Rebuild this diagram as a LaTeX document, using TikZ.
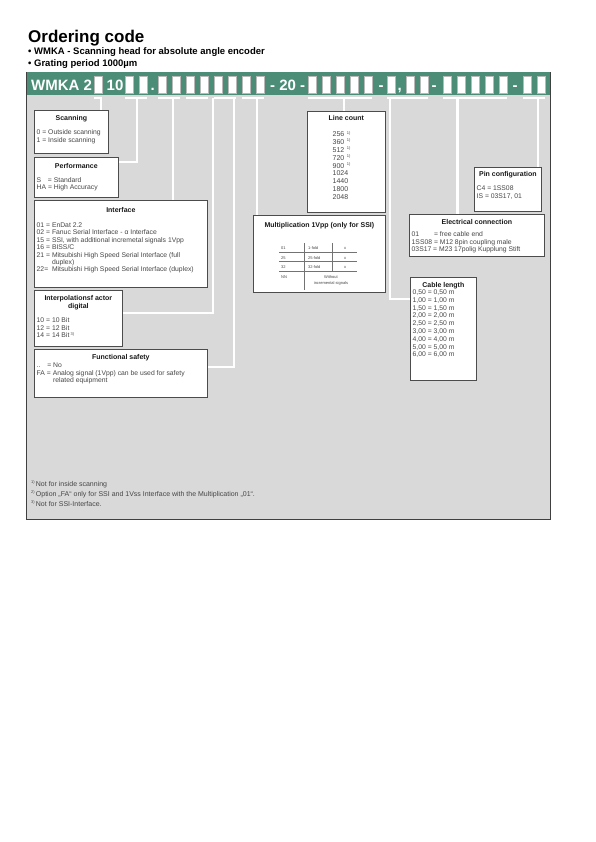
\documentclass[tikz,border=0pt]{standalone}
\usepackage{fontspec}
\setmainfont{Liberation Sans}
\usepackage{xcolor}
\usepackage{tikz}
\usetikzlibrary{positioning,calc}

\definecolor{barGreen}{RGB}{75,141,119}
\definecolor{panelGray}{RGB}{217,217,217}
\definecolor{txtGray}{RGB}{70,70,70}
\newcommand{\fnm}[1]{\raisebox{2.4pt}{\fontsize{4}{4}\selectfont #1}}

\begin{document}
\begin{tikzpicture}[x=1pt, y=-1pt,
    headline/.style={font=\fontsize{17}{17}\selectfont\bfseries, inner sep=0pt, anchor=base west},
    bulletline/.style={font=\fontsize{9.5}{11}\selectfont\bfseries, inner sep=0pt, anchor=base west},
    codebox/.style={rectangle, draw=gray!55, fill=white, line width=0.8pt, minimum width=8pt,
                    minimum height=17pt, inner sep=0pt, anchor=north west},
    barlabel/.style={text=white, font=\fontsize{15}{15}\selectfont\bfseries, inner sep=0pt, anchor=base west},
    infobox/.style={rectangle, draw=black!70, fill=white, line width=0.7pt, inner sep=0pt, anchor=north west},
    boxtitle/.style={font=\fontsize{7}{8}\selectfont\bfseries, text=black!90, inner sep=0pt, anchor=base, align=center},
    boxtext/.style={font=\fontsize{6.8}{7.4}\selectfont, text=txtGray, inner sep=0pt, anchor=north west,
                    align=left, execute at begin node=\strut},
    tabtext/.style={font=\fontsize{4}{5.5}\selectfont, text=txtGray, inner sep=0pt, anchor=base west},
    tabline/.style={draw=black!55, line width=0.4pt},
    wire/.style={draw=white, line width=2.2pt, shorten >=0.4pt},
    note/.style={font=\fontsize{7}{8}\selectfont, text=txtGray, inner sep=0pt, anchor=base west}
]
\useasboundingbox (0,0) rectangle (595,842);

% heading
\node[headline]   (title)   at (28,42.5) {Ordering code};
\node[bulletline] (bullet1) at (28,55)   {• WMKA - Scanning head for absolute angle encoder};
\node[bulletline] (bullet2) at (28,67)   {• Grating period 1000µm};

% panel and code bar
\fill[panelGray] (26,95) rectangle (550,519);
\fill[barGreen]  (26,72) rectangle (550,95);

\node[barlabel] (wmka)   at (31,90.5)    {WMKA 2};
\node[barlabel] (ten)    at (106.5,90.5) {10};
\node[barlabel] (dot)    at (150.5,90.5) {.};
\node[barlabel] (twenty) at (270,90.5)   {- 20 -};
\node[barlabel] (dashA)  at (378.5,90.5) {-};
\node[barlabel] (comma)  at (397.5,90.5) {,};
\node[barlabel] (dashB)  at (431.5,90.5) {-};
\node[barlabel] (dashC)  at (512.5,90.5) {-};

\node[codebox] (scan) at (94,76) {};
\foreach \x [count=\i] in {125,139}             \node[codebox] (perf\i) at (\x,76) {};
\foreach \x [count=\i] in {158,172}             \node[codebox] (if\i)   at (\x,76) {};
\foreach \x [count=\i] in {186,200}             \node[codebox] (ip\i)   at (\x,76) {};
\foreach \x [count=\i] in {214,228}             \node[codebox] (fs\i)   at (\x,76) {};
\foreach \x [count=\i] in {242,256}             \node[codebox] (mu\i)   at (\x,76) {};
\foreach \x [count=\i] in {308,322,336,350,364} \node[codebox] (lc\i)   at (\x,76) {};
\foreach \x [count=\i] in {387,406,420}         \node[codebox] (cl\i)   at (\x,76) {};
\foreach \x [count=\i] in {443,457,471,485,499} \node[codebox] (ec\i)   at (\x,76) {};
\foreach \x [count=\i] in {523,537}             \node[codebox] (pc\i)   at (\x,76) {};

% description boxes
\node[infobox, minimum width=74pt,  minimum height=43pt]  (scanning)    at (34,110)  {};
\node[infobox, minimum width=84pt,  minimum height=40pt]  (performance) at (34,157)  {};
\node[infobox, minimum width=173pt, minimum height=87pt]  (interface)   at (34,200)  {};
\node[infobox, minimum width=88pt,  minimum height=56pt]  (interpol)    at (34,290)  {};
\node[infobox, minimum width=173pt, minimum height=48pt]  (safety)      at (34,349)  {};
\node[infobox, minimum width=78pt,  minimum height=101pt] (linecount)   at (307,111) {};
\node[infobox, minimum width=132pt, minimum height=77pt]  (multi)       at (253,215) {};
\node[infobox, minimum width=67pt,  minimum height=44pt]  (pinconf)     at (474,167) {};
\node[infobox, minimum width=135pt, minimum height=42pt]  (elec)        at (409,214) {};
\node[infobox, minimum width=66pt,  minimum height=103pt] (cable)       at (410,277) {};

% white connectors from the code bar
\foreach \a/\b in {scan/scan, perf1/perf2, if1/if2, ip1/ip2, fs1/fs2, mu1/mu2,
                   lc1/lc5, cl1/cl3, ec1/ec5, pc1/pc2}
  \draw[wire] ([yshift=-4pt]\a.south west) -- ([yshift=-4pt]\b.south east);

\coordinate (w-scan) at ([xshift=-2pt,yshift=-4pt]scan.south east);
\coordinate (w-perf) at ([xshift=-2pt,yshift=-4pt]perf2.south west);
\coordinate (w-if)   at ([xshift=1pt,yshift=-4pt]if2.south west);
\coordinate (w-ip)   at ([xshift=4pt,yshift=-4pt]ip2.south east);
\coordinate (w-fs)   at ([xshift=-3pt,yshift=-4pt]fs2.south east);
\coordinate (w-mu)   at ([xshift=1pt,yshift=-4pt]mu2.south west);
\coordinate (w-lc)   at ([xshift=-1pt,yshift=-4pt]lc3.south east);
\coordinate (w-cl)   at ([xshift=3pt,yshift=-4pt]cl1.south west);
\coordinate (w-ec)   at ([xshift=0.5pt,yshift=-4pt]ec2.south west);
\coordinate (w-pc)   at ([xshift=1pt,yshift=-4pt]pc2.south west);

\draw[wire] (w-scan) -- (w-scan |- scanning.north);
\draw[wire] (w-perf) |- ([yshift=-5pt]performance.north east);
\draw[wire] (w-if)   -- (w-if |- interface.north);
\draw[wire] (w-ip)   |- ([yshift=-23pt]interpol.north east);
\draw[wire] (w-fs)   |- ([yshift=-18pt]safety.north east);
\draw[wire] (w-mu)   -- (w-mu |- multi.north);
\draw[wire] (w-lc)   -- (w-lc |- linecount.north);
\draw[wire] (w-cl)   |- ([yshift=-22pt]cable.north west);
\draw[wire] (w-ec)   -- (w-ec |- elec.north);
\draw[wire] (w-pc)   -- (w-pc |- pinconf.north);

% box contents
\node[boxtitle] (scanning-t) at ([yshift=-11pt]scanning.north) {Scanning};
\node[boxtext]  (scanning-b) at ([xshift=2.5pt,yshift=-19.8pt]scanning.north west)
  {0 = Outside scanning\\1 = Inside scanning};

\node[boxtitle] (performance-t) at ([yshift=-11.5pt]performance.north) {Performance};
\node[boxtext]  (performance-b) at ([xshift=2.5pt,yshift=-20.3pt]performance.north west)
  {\makebox[11.3pt][l]{S}= Standard\\HA = High Accuracy};

\node[boxtitle] (interface-t) at ([yshift=-12.5pt]interface.north) {Interface};
\node[boxtext]  (interface-b) at ([xshift=2.5pt,yshift=-22.5pt]interface.north west)
  {01 = EnDat 2.2\\
   02 = Fanuc Serial Interface - α Interface\\
   15 = SSI, with additional incremetal signals 1Vpp\\
   16 = BISS/C\\
   21 = Mitsubishi High Speed Serial Interface (full\\
   \hspace*{15.3pt}duplex)\\
   22=\ \ Mitsubishi High Speed Serial Interface (duplex)};

\node[boxtitle, anchor=north] (interpol-t) at ([yshift=-4.6pt]interpol.north)
  {\strut Interpolationsf actor\\digital};
\node[boxtext]  (interpol-b) at ([xshift=2.5pt,yshift=-27.6pt]interpol.north west)
  {10 = 10 Bit\\12 = 12 Bit\\14 = 14 Bit\,\fnm{3)}};

\node[boxtitle] (safety-t) at ([yshift=-10.2pt]safety.north) {Functional safety};
\node[boxtext]  (safety-b) at ([xshift=2.5pt,yshift=-13.8pt]safety.north west)
  {\makebox[10.6pt][l]{..}= No\\
   FA = Analog signal (1Vpp) can be used for safety\\
   \hspace*{16.4pt}related equipment};

\node[boxtitle] (linecount-t) at ([yshift=-9.5pt]linecount.north) {Line count};
\node[boxtext, font=\fontsize{7}{7.9}\selectfont] (linecount-b)
  at ([xshift=25.5pt,yshift=-20pt]linecount.north west)
  {256\hspace{2.5pt}\fnm{1)}\\360\hspace{2.5pt}\fnm{1)}\\512\hspace{2.5pt}\fnm{1)}\\
   720\hspace{2.5pt}\fnm{1)}\\900\hspace{2.5pt}\fnm{1)}\\1024\\1440\\1800\\2048};

\node[boxtitle] (multi-t) at ([yshift=-12.5pt]multi.north) {Multiplication 1Vpp (only for SSI)};
\foreach \c/\t [count=\i] in {01/1-fold, 25/25-fold, 32/32-fold} {
  \node[tabtext] (mc\i) at (281,{240.5+9.3*\i}) {\c};
  \node[tabtext] (mf\i) at (308,{240.5+9.3*\i}) {\t};
  \node[tabtext, anchor=base] (mx\i) at (345,{240.5+9.3*\i}) {x};
  \draw[tabline] (279,{243+9.3*\i}) -- (357,{243+9.3*\i});
}
\node[tabtext] (mcNN) at (281,278.5) {NN};
\node[tabtext, anchor=north, align=center] (mfNN) at (331,274.7) {\strut Without\\incremental signals};
\draw[tabline] (304,243) -- (304,290);
\draw[tabline] (332,243) -- (332,270.9);

\node[boxtitle] (pinconf-t) at ([yshift=-9.5pt]pinconf.north) {Pin configuration};
\node[boxtext]  (pinconf-b) at ([xshift=2.5pt,yshift=-19pt]pinconf.north west)
  {C4 = 1SS08\\IS = 03S17, 01};

\node[boxtitle] (elec-t) at ([yshift=-10pt]elec.north) {Electrical connection};
\node[boxtext]  (elec-b) at ([xshift=2.5pt,yshift=-17.8pt]elec.north west)
  {\makebox[22.3pt][l]{01}= free cable end\\
   1SS08 = M12 8pin coupling male\\
   03S17 = M23 17polig Kupplung Stift};

\node[boxtitle] (cable-t) at ([yshift=-10pt]cable.north) {Cable length};
\node[boxtext, font=\fontsize{6.8}{7.8}\selectfont] (cable-b)
  at ([xshift=2.5pt,yshift=-12.5pt]cable.north west)
  {0,50 = 0,50 m\\1,00 = 1,00 m\\1,50 = 1,50 m\\2,00 = 2,00 m\\2,50 = 2,50 m\\
   3,00 = 3,00 m\\4,00 = 4,00 m\\5,00 = 5,00 m\\6,00 = 6,00 m};

% footnotes
\node[note] (fn1) at (31,486) {\fnm{1)}\,Not for inside scanning};
\node[note] (fn2) at (31,496) {\fnm{2)}\,Option „FA“ only for SSI and 1Vss Interface with the Multiplication „01“.};
\node[note] (fn3) at (31,506) {\fnm{3)}\,Not for SSI-Interface.};

\draw[black!75, line width=0.9pt] (26,72) -- (26,519) -- (550,519) -- (550,72);

\end{tikzpicture}
\end{document}
